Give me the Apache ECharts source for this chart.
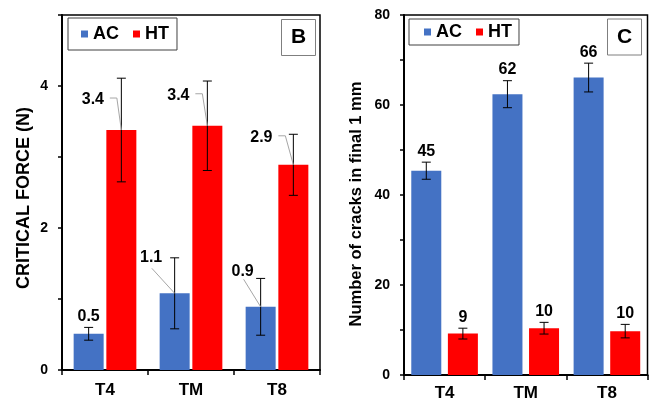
<!DOCTYPE html>
<html>
<head>
<meta charset="utf-8">
<script src="https://cdn.jsdelivr.net/npm/echarts@6/dist/echarts.min.js"></script>
<style>
html,body{margin:0;padding:0;background:#fff;}
#main{width:653px;height:402px;}
</style>
</head>
<body>
<div id="main"></div>
<script>
// ---- data ----
const categories = ['T4', 'TM', 'T8'];
const seriesNames = ['AC', 'HT'];

const forceAC = [0.51, 1.08, 0.89];
const forceACErr = [0.09, 0.50, 0.40];
const forceHT = [3.38, 3.44, 2.89];
const forceHTErr = [0.73, 0.63, 0.43];
const forceACLabels = ['0.5', '1.1', '0.9'];
const forceHTLabels = ['3.4', '3.4', '2.9'];

const cracksAC = [45.4, 62.4, 66.1];
const cracksACErr = [1.9, 3.0, 3.2];
const cracksHT = [9.2, 10.4, 9.75];
const cracksHTErr = [1.2, 1.3, 1.5];
const cracksACLabels = ['45', '62', '66'];
const cracksHTLabels = ['9', '10', '10'];

const forceTicks = [0, 2, 4];
const cracksTicks = [0, 20, 40, 60, 80];

const forceTitle = 'CRITICAL FORCE (N)';
const cracksTitle = 'Number of cracks in final 1 mm';

// ---- styling / layout ----
const FONT = 'Liberation Sans, Arial, sans-serif';
const BLUE = '#4472C4', RED = '#FF0000';
const BAR_W = 30;

// label placement relative to bar top (anchor 'bar') or error-bar top (anchor 'err')
const layoutForceAC = [
  {anchor: 'err', dx: 0, dy: -11},
  {anchor: 'bar', dx: -23.5, dy: -36, leader: [[0.7, 11]]},
  {anchor: 'bar', dx: -18, dy: -35, leader: [[1, 7.5]]}
];
const layoutForceHT = [
  {anchor: 'bar', dx: -28.5, dy: -30, leader: [[17, -2], [24, -2]]},
  {anchor: 'bar', dx: -29, dy: -30, leader: [[17, -2], [24, -2]]},
  {anchor: 'bar', dx: -32, dy: -27, leader: [[17, -2], [24, -2]]}
];
const layoutTop = [
  {anchor: 'err', dx: 0, dy: -11},
  {anchor: 'err', dx: 0, dy: -11},
  {anchor: 'err', dx: 0, dy: -11}
];

function overlay(axisIdx, vals, errs, labels, side, gapRatio, layouts) {
  return {
    type: 'custom',
    xAxisIndex: axisIdx, yAxisIndex: axisIdx,
    silent: true, z: 10,
    data: vals.map((v, i) => [i, v, errs[i]]),
    renderItem: function (params, api) {
      const i = api.value(0), v = api.value(1), e = api.value(2);
      const c = api.coord([i, v]);
      const x = c[0] + side * BAR_W * (1 + gapRatio) / 2;
      const top = api.coord([i, v + e])[1];
      const bot = api.coord([i, v - e])[1];
      const cap = 4.5;
      const L = layouts[params.dataIndex];
      const ay = L.anchor === 'err' ? top : c[1];
      const lx = x + L.dx, ly = ay + L.dy;
      const children = [
        {type: 'line', shape: {x1: x, y1: top, x2: x, y2: bot}, style: {stroke: '#000', lineWidth: 1}},
        {type: 'line', shape: {x1: x - cap, y1: top, x2: x + cap, y2: top}, style: {stroke: '#000', lineWidth: 1}},
        {type: 'line', shape: {x1: x - cap, y1: bot, x2: x + cap, y2: bot}, style: {stroke: '#000', lineWidth: 1}},
        {type: 'text', x: lx, y: ly, style: {text: labels[params.dataIndex], fill: '#000',
          font: 'bold 16px ' + FONT, align: 'center', verticalAlign: 'middle'}}
      ];
      if (L.leader) {
        const pts = L.leader.map(p => [lx + p[0], ly + p[1]]);
        pts.push([x, c[1]]);
        children.push({type: 'polyline', shape: {points: pts}, style: {stroke: '#A6A6A6', lineWidth: 1, fill: null}});
      }
      return {type: 'group', children: children};
    }
  };
}

const axisLabelStyle = {fontSize: 14, fontWeight: 'bold', color: '#000', fontFamily: FONT};
const xLabelStyle = {fontSize: 17, fontWeight: 'bold', color: '#000', fontFamily: FONT};

const chart = echarts.init(document.getElementById('main'), null, {renderer: 'canvas'});
chart.setOption({
  backgroundColor: '#fff',
  animation: false,
  textStyle: {fontFamily: FONT},
  grid: [
    {left: 62, top: 15, width: 258, height: 355, show: true, borderColor: '#000', borderWidth: 1.5, containLabel: false},
    {left: 404, top: 15, width: 243.5, height: 360.5, show: true, borderColor: '#000', borderWidth: 1.5, containLabel: false}
  ],
  title: [
    {text: 'B', left: 281, top: 19, padding: [8, 10, 8, 10], borderColor: '#7f7f7f', borderWidth: 1,
      textStyle: {fontSize: 21, fontWeight: 'bold', color: '#000', fontFamily: FONT}},
    {text: 'C', left: 607, top: 18.5, padding: [8, 10, 8, 10], borderColor: '#7f7f7f', borderWidth: 1,
      textStyle: {fontSize: 21, fontWeight: 'bold', color: '#000', fontFamily: FONT}}
  ],
  graphic: [
    {type: 'text', x: 24, y: 198, rotation: Math.PI / 2, silent: true,
      style: {text: forceTitle, font: 'bold 18px ' + FONT, fill: '#000', align: 'center', verticalAlign: 'middle'}},
    {type: 'text', x: 356, y: 204, rotation: Math.PI / 2, silent: true,
      style: {text: cracksTitle, font: 'bold 16.5px ' + FONT, fill: '#000', align: 'center', verticalAlign: 'middle'}}
  ],
  legend: [
    {data: seriesNames, left: 68, top: 18, icon: 'rect', itemWidth: 7, itemHeight: 7, itemGap: 14,
      padding: [7, 8, 7, 13], borderColor: '#404040', borderWidth: 1,
      textStyle: {fontSize: 18, fontWeight: 'bold', color: '#000', fontFamily: FONT}},
    {data: seriesNames, left: 409, top: 19, icon: 'rect', itemWidth: 7, itemHeight: 7, itemGap: 14,
      padding: [4, 7, 4, 15], borderColor: '#404040', borderWidth: 1,
      textStyle: {fontSize: 18, fontWeight: 'bold', color: '#000', fontFamily: FONT}}
  ],
  xAxis: [0, 1].map(g => ({
    type: 'category', gridIndex: g, data: categories,
    axisLine: {lineStyle: {color: '#000', width: 2}},
    axisTick: {show: true, alignWithLabel: false, length: 5, lineStyle: {color: '#000', width: 1.5}},
    axisLabel: Object.assign({margin: g === 0 ? 12 : 10}, xLabelStyle),
    splitLine: {show: false}
  })),
  yAxis: [
    {type: 'value', gridIndex: 0, min: 0, max: 5, interval: 1,
      axisLine: {show: true, lineStyle: {color: '#000', width: 2}},
      axisTick: {show: true, length: 4, lineStyle: {color: '#000', width: 1.5}},
      axisLabel: Object.assign({margin: 14, formatter: v => forceTicks.indexOf(v) >= 0 ? String(v) : ''}, axisLabelStyle),
      splitLine: {show: false}},
    {type: 'value', gridIndex: 1, min: 0, max: 80, interval: 10,
      axisLine: {show: true, lineStyle: {color: '#000', width: 2}},
      axisTick: {show: true, length: 4, lineStyle: {color: '#000', width: 1.5}},
      axisLabel: Object.assign({margin: 14, formatter: v => cracksTicks.indexOf(v) >= 0 ? String(v) : ''}, axisLabelStyle),
      splitLine: {show: false}}
  ],
  series: [
    {name: 'AC', type: 'bar', xAxisIndex: 0, yAxisIndex: 0, data: forceAC, barWidth: BAR_W, barGap: '9%', itemStyle: {color: BLUE}},
    {name: 'HT', type: 'bar', xAxisIndex: 0, yAxisIndex: 0, data: forceHT, barWidth: BAR_W, barGap: '9%', itemStyle: {color: RED}},
    {name: 'AC', type: 'bar', xAxisIndex: 1, yAxisIndex: 1, data: cracksAC, barWidth: BAR_W, barGap: '22%', itemStyle: {color: BLUE}},
    {name: 'HT', type: 'bar', xAxisIndex: 1, yAxisIndex: 1, data: cracksHT, barWidth: BAR_W, barGap: '22%', itemStyle: {color: RED}},
    overlay(0, forceAC, forceACErr, forceACLabels, -1, 0.09, layoutForceAC),
    overlay(0, forceHT, forceHTErr, forceHTLabels, 1, 0.09, layoutForceHT),
    overlay(1, cracksAC, cracksACErr, cracksACLabels, -1, 0.22, layoutTop),
    overlay(1, cracksHT, cracksHTErr, cracksHTLabels, 1, 0.22, layoutTop)
  ]
});
</script>
</body>
</html>
